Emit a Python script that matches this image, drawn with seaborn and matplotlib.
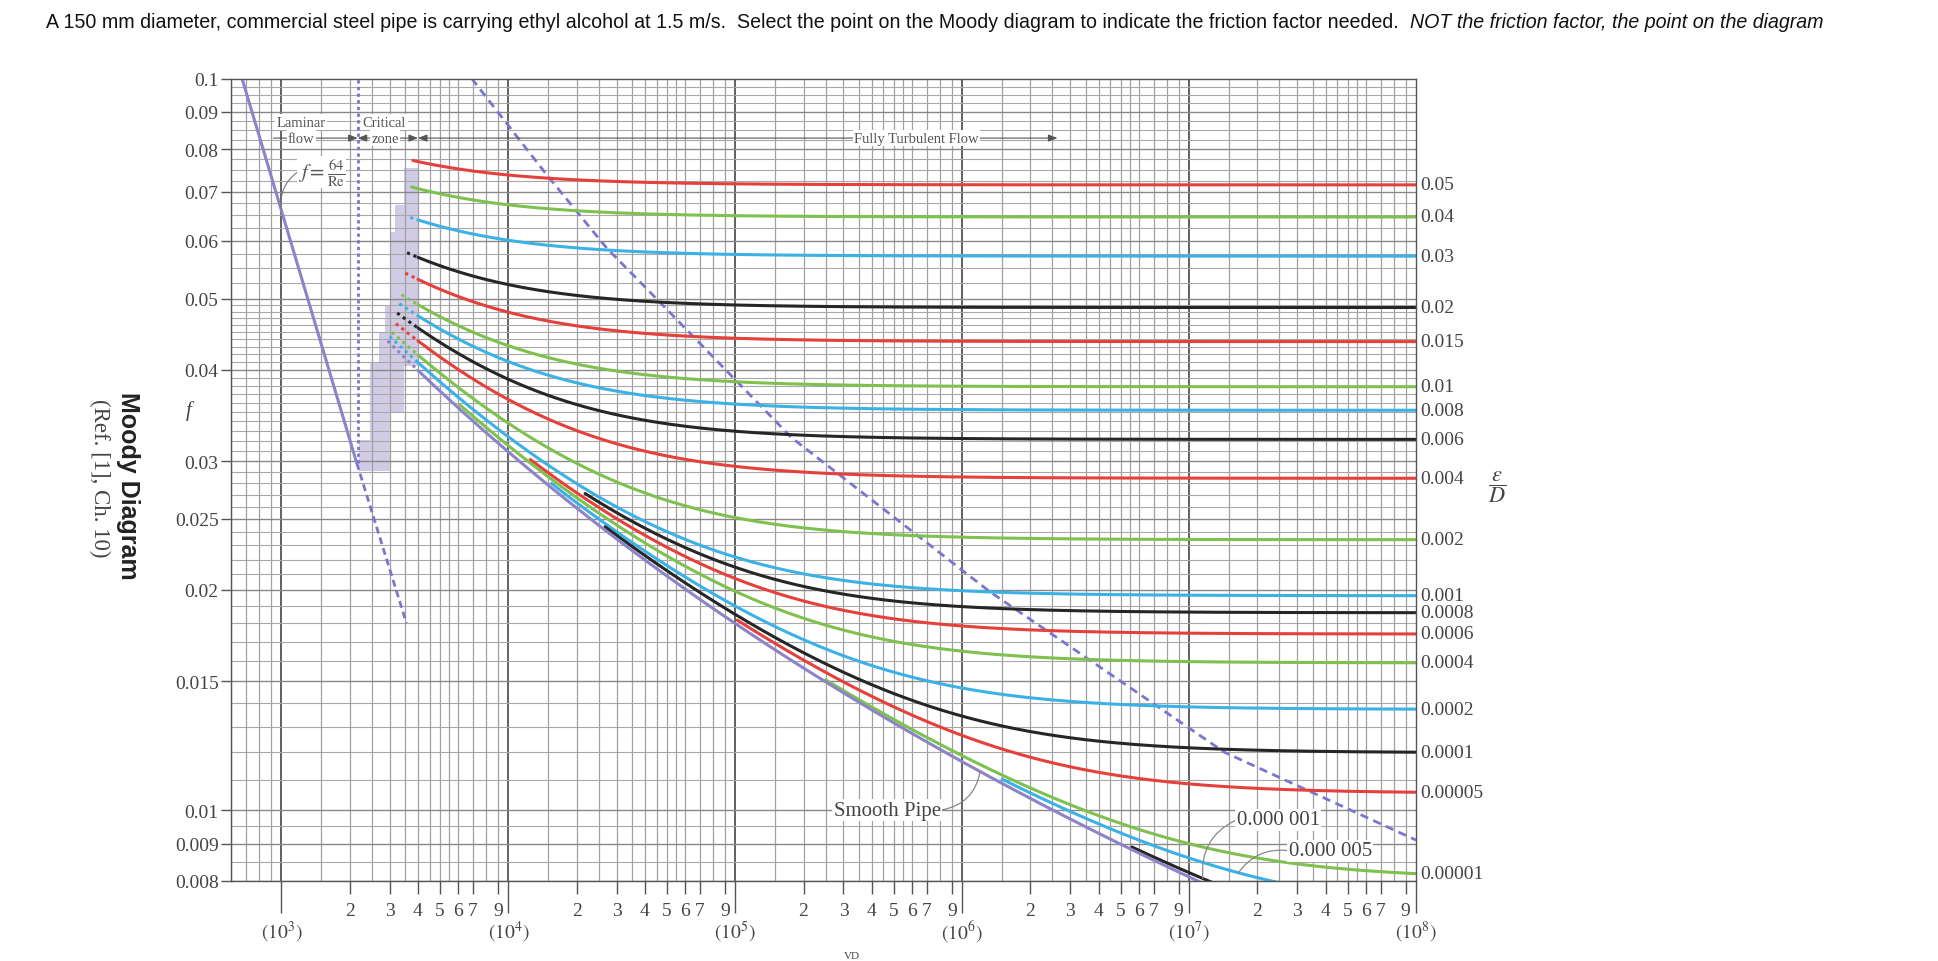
import numpy as np
import matplotlib
matplotlib.use("Agg")
import matplotlib.pyplot as plt
import matplotlib.transforms as mtransforms
import seaborn as sns

W, H = 1938, 962

# ---------------- data ----------------
title_main = ("A 150 mm diameter, commercial steel pipe is carrying ethyl alcohol at 1.5 m/s.  "
              "Select the point on the Moody diagram to indicate the friction factor needed.  ")
title_italic = "NOT the friction factor, the point on the diagram"

rel_rough = [0.05, 0.04, 0.03, 0.02, 0.015, 0.01, 0.008, 0.006, 0.004, 0.002,
             0.001, 0.0008, 0.0006, 0.0004, 0.0002, 0.0001, 0.00005,
             0.00001, 0.000005, 0.000001]
rough_labels = ["0.05", "0.04", "0.03", "0.02", "0.015", "0.01", "0.008", "0.006",
                "0.004", "0.002", "0.001", "0.0008", "0.0006", "0.0004", "0.0002",
                "0.0001", "0.00005", "0.00001"]
rough_colors = ["red", "green", "blue", "black"] * 5
solid_start_re = [3800, 3750, 4000, 4000, 4000, 4000, 4000, 4000, 4000, 4000,
                  4000, 21800, 12500, 6150, 15500, 26700, 102000,
                  250000, 1500000, 5600000]
dotted_start_re = [None, None, 3700, 3580, 3520, 3380, 3310, 3240, 3200, 3070,
                   3000, None, None, None, None, None, None, None, None, None]
smooth_dotted_start = 2940
smooth_solid_start = 4000

laminar_re = [671, 2150]
laminar_f = [0.1, 0.0298]
laminar_ext_re = [2150, 3560]
laminar_ext_f = [0.0298, 0.0180]
critical_re = [2170, 2170]
critical_f = [0.0298, 0.1]

boundary_re = [6900, 14800, 27200, 45000, 177000, 1320000, 14300000, 100000000]
boundary_f = [0.1, 0.0738, 0.0586, 0.0500, 0.0323, 0.0199, 0.0120, 0.0091]

zone_re = [4000, 4000, 3460, 3460, 3020, 3020, 2190, 2190, 2470, 2470,
           2685, 2685, 2870, 2870, 3020, 3020, 3180, 3180, 3480, 3480]
zone_f = [0.0755, 0.0405, 0.0405, 0.0350, 0.0350, 0.0291, 0.0291, 0.0321, 0.0321, 0.0409,
          0.0409, 0.0450, 0.0450, 0.0489, 0.0489, 0.0617, 0.0617, 0.0671, 0.0671, 0.0755]

y_tick_values = [0.008, 0.009, 0.01, 0.015, 0.02, 0.025, 0.03, 0.04, 0.05,
                 0.06, 0.07, 0.08, 0.09, 0.1]
y_tick_labels = ["0.008", "0.009", "0.01", "0.015", "0.02", "0.025", "0.03", "0.04",
                 "0.05", "0.06", "0.07", "0.08", "0.09", "0.1"]
x_decades = [3, 4, 5, 6, 7, 8]
x_minor_mantissa = [2, 3, 4, 5, 6, 7, 9]
grid_mantissa = [1, 1.5, 2, 2.5, 3, 3.5, 4, 4.5, 5, 5.5, 6, 7, 8, 9]
hgrid_f = list(np.arange(0.008, 0.00999, 0.0005)) + list(np.arange(0.01, 0.04999, 0.001)) \
    + list(np.arange(0.05, 0.10001, 0.0025))

palette = {"red": "#e5403c", "green": "#7ec14f", "blue": "#3cb1e6",
           "black": "#262626", "purple": "#8c84c8", "dash": "#7a76cf"}


def colebrook(re, rr):
    re = np.asarray(re, float)
    f = np.full(re.shape, 0.02)
    for _ in range(80):
        f = (-2.0 * np.log10(rr / 3.7 + 2.51 / (re * np.sqrt(f)))) ** -2
    return f


# ---------------- figure ----------------
sns.set_theme(style="white")
plt.rcParams["font.family"] = ["Liberation Serif", "DejaVu Serif"]
plt.rcParams["mathtext.fontset"] = "stix"

fig = plt.figure(figsize=(W / 100, H / 100), dpi=100)
ax_top, ax_bot = 79.5, 882.0
ax = fig.add_axes([231 / W, 1 - ax_bot / H, (1416 - 231) / W, (ax_bot - ax_top) / H])
ax.set_xscale("log")
ax.set_yscale("log")
ax.set_xlim(600, 1e8)
ax.set_ylim(0.008, 0.1)
ax.set_facecolor("white")

# grid
for d in range(2, 8):
    for m in grid_mantissa:
        x = m * 10 ** d
        if 600 <= x <= 1e8:
            major = (m == 1)
            ax.axvline(x, color="#555555" if major else "#a0a0a0",
                       lw=1.3 if major else 0.9, zorder=1)
for yv in hgrid_f:
    lab = any(abs(yv - t) < 1e-9 for t in y_tick_values)
    ax.axhline(yv, color="#888888" if lab else "#a8a8a8", lw=1.0 if lab else 0.8, zorder=1)

# critical zone shading
ax.fill(zone_re, zone_f, color="#d2cbe6", lw=0, zorder=0.6)

# laminar lines
sns.lineplot(x=laminar_re, y=laminar_f, ax=ax, color=palette["purple"], lw=2.2,
             estimator=None, zorder=3)
ax.plot(laminar_ext_re, laminar_ext_f, color=palette["dash"], lw=2.0,
        linestyle=(0, (2.5, 1.5)), zorder=3)
ax.plot(critical_re, critical_f, color=palette["dash"], lw=2.0,
        linestyle=(0, (1.2, 1.2)), zorder=3)

# boundary of fully turbulent zone
ax.plot(boundary_re, boundary_f, color=palette["dash"], lw=2.0,
        linestyle=(0, (3, 2)), zorder=3)

# roughness curves
final_f = []
for i, rr in enumerate(rel_rough):
    col = palette[rough_colors[i]]
    if dotted_start_re[i] is not None:
        re_d = np.geomspace(dotted_start_re[i], solid_start_re[i], 12)
        ax.plot(re_d, colebrook(re_d, rr), color=col, lw=2.2,
                linestyle=(0, (1, 1.3)), zorder=3)
    re_s = np.geomspace(solid_start_re[i], 1e8, 400)
    f_s = colebrook(re_s, rr)
    sns.lineplot(x=re_s, y=f_s, ax=ax, color=col, lw=2.2, estimator=None, zorder=3)
    final_f.append(f_s[-1])

# smooth pipe
re_sd = np.geomspace(smooth_dotted_start, smooth_solid_start, 12)
ax.plot(re_sd, colebrook(re_sd, 0.0), color=palette["purple"], lw=2.2,
        linestyle=(0, (1, 1.3)), zorder=3)
re_sm = np.geomspace(smooth_solid_start, 1e8, 400)
sns.lineplot(x=re_sm, y=colebrook(re_sm, 0.0), ax=ax, color=palette["purple"], lw=2.2,
             estimator=None, zorder=3)

# ---------------- ticks ----------------
ax.set_yticks(y_tick_values)
ax.set_yticklabels(y_tick_labels)
ax.yaxis.set_minor_locator(matplotlib.ticker.NullLocator())
ax.set_xticks([10.0 ** d for d in x_decades])
ax.set_xticklabels([r"$(10^{%d})$" % d for d in x_decades])
minor_pos, minor_lab = [], []
for d in x_decades[:-1]:
    for m in x_minor_mantissa:
        minor_pos.append(m * 10.0 ** d)
        minor_lab.append(str(m))
ax.set_xticks(minor_pos, minor=True)
ax.set_xticklabels(minor_lab, minor=True)
ax.tick_params(axis="x", which="major", length=23, width=1.0, color="#555555",
               pad=4, labelsize=14, labelcolor="#444444", direction="out", bottom=True)
ax.tick_params(axis="x", which="minor", length=9, width=1.0, color="#555555",
               pad=6, labelsize=14, labelcolor="#444444", direction="out", bottom=True)
ax.tick_params(axis="y", which="major", length=7, width=1.0, color="#555555",
               pad=2, labelsize=14, labelcolor="#444444", direction="out", left=True)
for sp in ax.spines.values():
    sp.set_color("#555555")
    sp.set_linewidth(1.0)
    sp.set_zorder(4)

# right-side relative roughness labels
trans = mtransforms.blended_transform_factory(ax.transAxes, ax.transData)
for lab, fv in zip(rough_labels, final_f):
    ax.text(1.004, fv, lab, transform=trans, ha="left", va="center",
            fontsize=14, color="#444444", clip_on=False)
fig.text(1497 / W, 1 - 487 / H, r"$\dfrac{\varepsilon}{D}$", fontsize=16,
         color="#444444", ha="center", va="center")

# ---------------- annotations ----------------
txt = dict(fontsize=10.5, color="#555555", ha="center", va="center", zorder=6)
wb = dict(fc="white", ec="none", pad=1.0)
row_f, up_f = 0.0829, 0.0872
arrow = dict(arrowstyle="-|>,head_length=0.45,head_width=0.18", color="#555555",
             lw=0.8, shrinkA=0, shrinkB=0)
ax.annotate("", xy=(2170, row_f), xytext=(922, row_f), arrowprops=arrow, zorder=5)
ax.text(1225, row_f, "flow", bbox=wb, **txt)
ax.text(1225, up_f, "Laminar", bbox=wb, **txt)
ax.annotate("", xy=(2170, row_f), xytext=(2870, row_f), arrowprops=arrow, zorder=5)
ax.annotate("", xy=(4000, row_f), xytext=(2870, row_f), arrowprops=arrow, zorder=5)
ax.text(2870, row_f, "zone", bbox=wb, **txt)
ax.text(2845, up_f, "Critical", bbox=wb, **txt)
ax.annotate("", xy=(4000, row_f), xytext=(630000, row_f), arrowprops=arrow, zorder=5)
ax.annotate("", xy=(2630000, row_f), xytext=(630000, row_f), arrowprops=arrow, zorder=5)
ax.text(630000, row_f, "Fully Turbulent Flow", bbox=wb, **txt)

lam_pt_re = 1000
lam_pt_f = 10 ** np.interp(np.log10(lam_pt_re), np.log10(laminar_re), np.log10(laminar_f))
ax.annotate(r"$f = \frac{64}{\mathrm{Re}}$", xy=(lam_pt_re, lam_pt_f), xytext=(1500, 0.0745),
            fontsize=15, color="#555555", ha="center", va="center",
            bbox=dict(fc="white", ec="none", pad=0.5), zorder=6,
            arrowprops=dict(arrowstyle="-", color="#777777", lw=0.8, relpos=(0, 0.5),
                            connectionstyle="arc3,rad=0.3", shrinkA=0, shrinkB=0))

sm_re = 1.2e6
ax.annotate("Smooth Pipe", xy=(sm_re, colebrook([sm_re], 0.0)[0]), xytext=(4.68e5, 0.0100),
            fontsize=15, color="#444444", ha="center", va="center",
            bbox=dict(fc="white", ec="none", pad=1.0), zorder=6,
            arrowprops=dict(arrowstyle="-", color="#888888", lw=0.9, relpos=(1, 0.5),
                            connectionstyle="arc3,rad=0.35", shrinkA=0, shrinkB=0))
b_re = 1.15e7
ax.annotate("0.000 001", xy=(b_re, colebrook([b_re], rel_rough[19])[0]), xytext=(1.62e7, 0.0097),
            fontsize=15, color="#444444", ha="left", va="center",
            bbox=dict(fc="white", ec="none", pad=1.0), zorder=6,
            arrowprops=dict(arrowstyle="-", color="#888888", lw=0.9, relpos=(0, 0.5),
                            connectionstyle="arc3,rad=0.35", shrinkA=0, shrinkB=0))
c_re = 1.65e7
ax.annotate("0.000 005", xy=(c_re, colebrook([c_re], rel_rough[18])[0]), xytext=(2.75e7, 0.0088),
            fontsize=15, color="#444444", ha="left", va="center",
            bbox=dict(fc="white", ec="none", pad=1.0), zorder=6,
            arrowprops=dict(arrowstyle="-", color="#888888", lw=0.9, relpos=(0, 0.5),
                            connectionstyle="arc3,rad=0.3", shrinkA=0, shrinkB=0))

# left labels
fig.text(189 / W, 1 - 411 / H, "f", style="italic", fontsize=15, color="#444444",
         ha="center", va="center")
fig.text(128 / W, 1 - 486 / H, "Moody Diagram", rotation=-90, fontweight="bold",
         family=["Liberation Sans", "DejaVu Sans"], fontsize=18, color="#222222",
         ha="center", va="center")
fig.text(100 / W, 1 - 478 / H, "(Ref. [1], Ch. 10)", rotation=-90, fontsize=16.5,
         color="#444444", ha="center", va="center")
fig.text(852 / W, 1 - 961 / H, "VD", fontsize=8, color="#444444", ha="center", va="bottom")

# title (two parts, fitted to the reference width)
renderer = fig.canvas.get_renderer()
fs = 12.5
t1 = fig.text(46 / W, 1 - 22 / H, title_main, fontsize=fs, family=["Liberation Sans", "DejaVu Sans"],
              color="#111111", ha="left", va="center")
t2 = fig.text(0, 1 - 22 / H, title_italic, fontsize=fs, style="italic",
              family=["Liberation Sans", "DejaVu Sans"], color="#111111", ha="left", va="center")
w1 = t1.get_window_extent(renderer).width
w2 = t2.get_window_extent(renderer).width
fs = fs * (1781.0 / (w1 + w2))
t1.set_fontsize(fs)
t2.set_fontsize(fs)
x1 = t1.get_window_extent(renderer).x1
t2.set_x(x1 / W)

fig.savefig("out.png", dpi=100, facecolor="white")
